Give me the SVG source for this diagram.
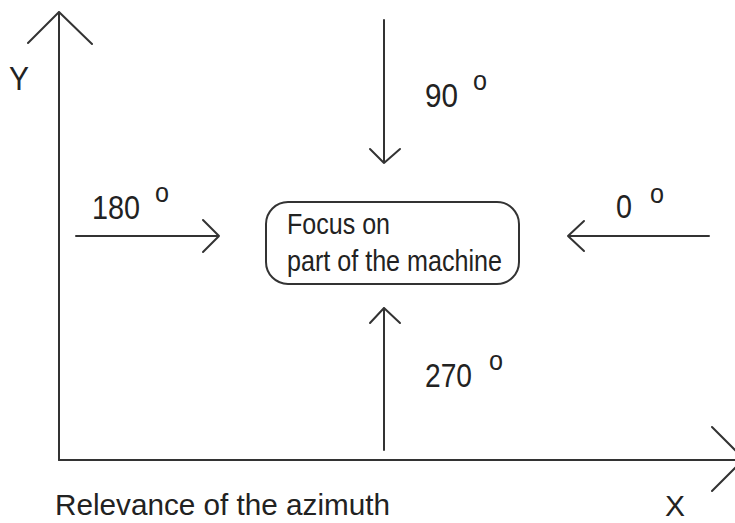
<svg xmlns="http://www.w3.org/2000/svg" width="735" height="523" viewBox="0 0 735 523">
<style>
.ln{stroke:#333;stroke-width:2;fill:none;stroke-linecap:round;stroke-linejoin:round}
.t{font-family:"Liberation Sans",Arial,sans-serif;fill:#222}
.lbl{font-size:33px}
.sup{font-size:28px}
</style>
<rect width="735" height="523" fill="#fff"/>
<g id="axes">
<path class="ln" d="M59,460 V12 M28,43 L59,12 L92,44"/>
<path class="ln" d="M59,460 H736 M712,427 L744,459 L712,491"/>
<text class="t lbl" x="9" y="90" textLength="20" lengthAdjust="spacingAndGlyphs">Y</text>
<text class="t" font-size="30" x="665" y="516" textLength="20" lengthAdjust="spacingAndGlyphs">X</text>
</g>
<g id="focus">
<rect x="266" y="202" width="253" height="82" rx="22" ry="22" fill="#fff" stroke="#333" stroke-width="2"/>
<text class="t" font-size="29" x="287" y="234" textLength="103" lengthAdjust="spacingAndGlyphs">Focus on</text>
<text class="t" font-size="29" x="287" y="271" textLength="215" lengthAdjust="spacingAndGlyphs">part of the machine</text>
</g>
<g id="connectors">
<path id="arrow-90" class="ln" d="M384,20 V163 M370,149 L384,163 L400,149"/>
<path id="arrow-270" class="ln" d="M384,450 V308 M370,323 L384,308 L400,323"/>
<path id="arrow-180" class="ln" d="M76,236 H219 M203,220 L219,236 L203,252"/>
<path id="arrow-0" class="ln" d="M709,236 H568 M584,221 L568,236 L584,251"/>
</g>
<g id="label-90">
<text class="t lbl" x="425" y="107" textLength="33" lengthAdjust="spacingAndGlyphs">90</text>
<text class="t sup" x="473" y="90" textLength="14" lengthAdjust="spacingAndGlyphs">o</text>
</g>
<g id="label-180">
<text class="t lbl" x="92" y="219" textLength="48" lengthAdjust="spacingAndGlyphs">180</text>
<text class="t sup" x="155" y="202" textLength="14" lengthAdjust="spacingAndGlyphs">o</text>
</g>
<g id="label-0">
<text class="t lbl" x="616" y="218" textLength="16" lengthAdjust="spacingAndGlyphs">0</text>
<text class="t sup" x="650" y="203" textLength="14" lengthAdjust="spacingAndGlyphs">o</text>
</g>
<g id="label-270">
<text class="t lbl" x="425" y="387" textLength="47" lengthAdjust="spacingAndGlyphs">270</text>
<text class="t sup" x="489" y="370" textLength="14" lengthAdjust="spacingAndGlyphs">o</text>
</g>
<g id="caption">
<text class="t" font-size="29" x="55" y="515" textLength="335" lengthAdjust="spacingAndGlyphs">Relevance of the azimuth</text>
</g>
</svg>
